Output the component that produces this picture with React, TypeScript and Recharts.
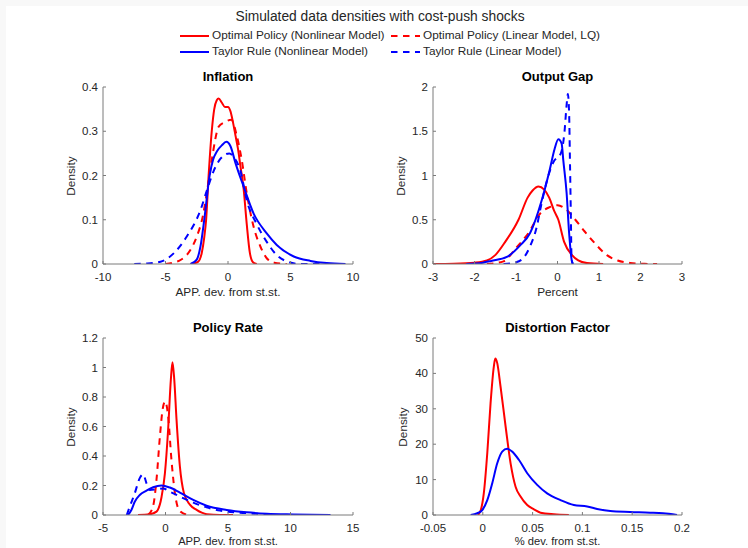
import React from 'react';
import { LineChart, Line, XAxis, YAxis } from 'recharts';

type P = [number, number];

// ---------- Inflation ----------
const inflationOptimalNonlinear: P[] = [[-3.0,0],[-2.4,0.005],[-2.1,0.025],[-1.9,0.06],[-1.75,0.1],[-1.55,0.2],[-1.3,0.3],[-1.1,0.35],[-0.9,0.37],[-0.75,0.374],[-0.5,0.365],[-0.25,0.355],[0,0.355],[0.2,0.345],[0.4,0.32],[0.6,0.29],[0.8,0.26],[1.0,0.22],[1.25,0.17],[1.5,0.09],[1.75,0.025],[2.0,0.004],[2.3,0]];
const inflationOptimalLinear: P[] = [[-5,0],[-4.4,0.003],[-3.8,0.009],[-3.0,0.032],[-2.5,0.062],[-2.0,0.11],[-1.7,0.16],[-1.3,0.235],[-0.75,0.31],[-0.3,0.32],[0.27,0.326],[0.7,0.29],[1.1,0.235],[1.5,0.16],[2.05,0.084],[2.6,0.039],[3.1,0.013],[3.7,0.003],[4.7,0]];
const inflationTaylorNonlinear: P[] = [[-3.0,0],[-2.5,0.01],[-2.2,0.04],[-1.9,0.1],[-1.47,0.2],[-1.2,0.235],[-0.88,0.255],[-0.5,0.268],[-0.13,0.276],[0.2,0.266],[0.6,0.228],[1.25,0.175],[2.05,0.114],[3.1,0.069],[3.9,0.043],[5.26,0.017],[6.6,0.007],[7.9,0.002],[9.4,0]];
const inflationTaylorLinear: P[] = [[-7.5,0],[-6.5,0.001],[-5.4,0.005],[-4.35,0.024],[-3.3,0.062],[-2.2,0.122],[-1.68,0.167],[-1.15,0.21],[-0.6,0.238],[0.1,0.25],[0.5,0.24],[1.0,0.21],[1.5,0.144],[2.3,0.09],[3.1,0.05],[3.9,0.02],[4.7,0.006],[5.8,0],[7.9,0]];
const inflationXTicks = [-10, -5, 0, 5, 10];
const inflationYTicks = [0, 0.1, 0.2, 0.3, 0.4];

// ---------- Output Gap ----------
const gapOptimalNonlinear: P[] = [[-3,0],[-2.5,0.003],[-2,0.015],[-1.7,0.04],[-1.5,0.1],[-1.26,0.25],[-0.94,0.5],[-0.72,0.75],[-0.6,0.83],[-0.46,0.875],[-0.32,0.84],[-0.2,0.75],[-0.08,0.6],[0.02,0.5],[0.16,0.25],[0.35,0.1],[0.5,0.04],[0.71,0.01],[1.1,0]];
const gapOptimalLinear: P[] = [[-1.7,0],[-1.3,0.03],[-1.0,0.18],[-0.7,0.35],[-0.4,0.58],[-0.2,0.64],[0,0.665],[0.2,0.62],[0.43,0.5],[0.65,0.37],[0.87,0.25],[1.19,0.1],[1.45,0.04],[1.75,0.012],[2.1,0.002],[2.4,0]];
const gapTaylorNonlinear: P[] = [[-2.2,0],[-1.8,0.015],[-1.6,0.035],[-1.22,0.08],[-0.9,0.21],[-0.66,0.35],[-0.38,0.72],[-0.19,1.06],[-0.07,1.3],[0.02,1.41],[0.1,1.36],[0.14,1.17],[0.22,0.8],[0.28,0.35],[0.34,0.05],[0.37,0]];
const gapTaylorLinear: P[] = [[-1.3,0],[-1.0,0.02],[-0.8,0.08],[-0.66,0.2],[-0.5,0.42],[-0.4,0.65],[-0.25,0.95],[-0.1,1.15],[0.08,1.25],[0.17,1.5],[0.22,1.8],[0.25,1.92],[0.28,1.7],[0.3,1.17],[0.32,0.6],[0.34,0.05],[0.37,0]];
const gapXTicks = [-3, -2, -1, 0, 1, 2, 3];
const gapYTicks = [0, 0.5, 1, 1.5, 2];

// ---------- Policy Rate ----------
const rateOptimalNonlinear: P[] = [[-2.2,0],[-1.26,0.005],[-0.72,0.023],[-0.32,0.12],[-0.05,0.28],[0.21,0.58],[0.43,0.92],[0.56,1.035],[0.7,0.92],[0.88,0.65],[1.15,0.33],[1.47,0.15],[1.95,0.07],[2.49,0.035],[2.9,0.016],[3.3,0.005],[4.36,0],[5.4,0]];
const rateOptimalLinear: P[] = [[-1.4,0],[-1.0,0.057],[-0.72,0.24],[-0.45,0.53],[-0.24,0.71],[-0.03,0.77],[0.21,0.67],[0.48,0.37],[0.75,0.15],[1.02,0.045],[1.42,0.011],[1.95,0]];
const rateTaylorNonlinear: P[] = [[-3.0,0],[-2.73,0.034],[-2.46,0.09],[-2.06,0.136],[-1.52,0.165],[-0.99,0.188],[-0.32,0.2],[0.35,0.186],[1.15,0.152],[2.22,0.102],[3.29,0.063],[4.9,0.034],[6.5,0.018],[8.1,0.009],[10.2,0.004],[13.2,0]];
const rateTaylorLinear: P[] = [[-3.1,0],[-2.86,0.057],[-2.46,0.147],[-2.06,0.25],[-1.79,0.276],[-1.52,0.215],[-1.26,0.17],[-0.72,0.174],[-0.19,0.18],[0.35,0.158],[1.15,0.125],[2.22,0.084],[3.29,0.052],[4.36,0.03],[5.96,0.016],[7.57,0.007],[8.6,0]];
const rateXTicks = [-5, 0, 5, 10, 15];
const rateYTicks = [0, 0.2, 0.4, 0.6, 0.8, 1, 1.2];

// ---------- Distortion Factor ----------
const distOptimalNonlinear: P[] = [[-0.005,0],[-0.002,1.4],[0.001,6.1],[0.0045,17.5],[0.0078,31.6],[0.0111,42],[0.0125,44.2],[0.0145,42.9],[0.0178,36.3],[0.0229,25],[0.0279,14.6],[0.0329,8],[0.0379,5.2],[0.0446,2.8],[0.0513,1.6],[0.058,0.66],[0.0713,0.2],[0.0864,0]];
const distTaylorNonlinear: P[] = [[-0.0122,0],[-0.0055,0.5],[-0.0005,1.4],[0.0045,4.2],[0.0095,9],[0.0145,14.6],[0.0195,17.9],[0.0245,18.7],[0.0295,17.9],[0.0362,15.6],[0.0446,11.8],[0.0546,8.5],[0.0646,6.1],[0.078,4.2],[0.0914,2.8],[0.1048,2.4],[0.1148,1.7],[0.128,1.1],[0.148,0.85],[0.168,0.66],[0.181,0.47],[0.195,0]];
const distXTicks = [-0.05, 0, 0.05, 0.1, 0.15, 0.2];
const distYTicks = [0, 10, 20, 30, 40, 50];

const legendNames = [
  'Optimal Policy (Nonlinear Model)',
  'Optimal Policy (Linear Model, LQ)',
  'Taylor Rule (Nonlinear Model)',
  'Taylor Rule (Linear Model)',
];

const RED = '#ff0000';
const BLUE = '#0000ff';
const FONT = '"Liberation Sans", Arial, Helvetica, sans-serif';
const TEXT = '#262626';
const AXIS = '#7a7a7a';
const DASH = '6.5 5.5';
const FS = 11.8;
const TICK_FS = 11.5;

interface Series { data: P[]; color: string; dashed: boolean; name: string }

const toPts = (a: P[]) => a.map(([x, y]) => ({ x, y }));

interface PanelProps {
  left: number; top: number; width: number;
  title: string; xLabel: string; yLabelX: number; xLabelDy: number; xLabelSize: number;
  xDomain: [number, number]; xTicks: number[];
  yDomain: [number, number]; yTicks: number[];
  series: Series[];
}

const CH = 234;
const YW = 63;
const XH = 30;
const MT = 27;
const MR = 10;

function Label({ x, y, text, bold, size, rotate }: { x: number; y: number; text: string; bold?: boolean; size: number; rotate?: boolean }) {
  return (
    <div style={{
      position: 'absolute', left: x, top: y, whiteSpace: 'nowrap',
      transform: `translate(-50%, -50%)${rotate ? ' rotate(-90deg)' : ''}`,
      fontFamily: FONT, fontSize: size, fontWeight: bold ? 'bold' : 'normal',
      color: bold ? '#000' : TEXT, lineHeight: 1,
    }}>{text}</div>
  );
}

function Panel(p: PanelProps) {
  const plotLeft = p.left + YW;
  const plotRight = p.left + p.width - MR;
  const cx = (plotLeft + plotRight) / 2;
  const plotTop = p.top + MT;
  const plotBottom = p.top + CH - XH;
  const tickStyle = { fill: TEXT, fontSize: TICK_FS, fontFamily: FONT };
  return (
    <>
      <div style={{ position: 'absolute', left: p.left, top: p.top }}>
        <LineChart width={p.width} height={CH} margin={{ top: MT, right: MR, bottom: 0, left: 0 }}>
          <XAxis type="number" dataKey="x" domain={p.xDomain} ticks={p.xTicks} interval={0}
            allowDataOverflow height={XH} tickSize={-3} tickMargin={12}
            stroke={AXIS} tickLine={{ stroke: AXIS }} tick={tickStyle} />
          <YAxis type="number" domain={p.yDomain} ticks={p.yTicks} interval={0}
            allowDataOverflow width={YW} tickSize={-3} tickMargin={8}
            stroke={AXIS} tickLine={{ stroke: AXIS }} tick={tickStyle} />
          {p.series.map((s) => (
            <Line key={s.name} data={toPts(s.data)} dataKey="y" type="monotone" stroke={s.color}
              strokeWidth={2} strokeDasharray={s.dashed ? DASH : undefined} dot={false}
              activeDot={false} isAnimationActive={false} name={s.name} />
          ))}
        </LineChart>
      </div>
      <Label x={cx} y={plotTop - 11} text={p.title} bold size={13} />
      <Label x={p.yLabelX} y={(plotTop + plotBottom) / 2} text="Density" size={FS} rotate />
      <Label x={cx} y={plotBottom + p.xLabelDy} text={p.xLabel} size={p.xLabelSize} />
    </>
  );
}

function LegendItem({ x, y, color, dashed, text }: { x: number; y: number; color: string; dashed: boolean; text: string }) {
  return (
    <div style={{ position: 'absolute', left: x, top: y - 8, height: 16, display: 'flex', alignItems: 'center', whiteSpace: 'nowrap' }}>
      <svg width={30} height={16} style={{ display: 'block' }}>
        <line x1={0} y1={8} x2={29} y2={8} stroke={color} strokeWidth={2} strokeDasharray={dashed ? DASH : undefined} />
      </svg>
      <span style={{ fontFamily: FONT, fontSize: FS, color: TEXT, marginLeft: 2, lineHeight: 1 }}>{text}</span>
    </div>
  );
}

export default function App() {
  return (
    <div style={{ position: 'absolute', left: 0, top: 0, width: 748, height: 548, background: '#f8f8f8', overflow: 'hidden' }}>
      <div style={{ position: 'absolute', left: 6, top: 6, width: 742, height: 542, background: '#ffffff' }} />
      <Label x={380} y={17} text="Simulated data densities with cost-push shocks" size={13.8} />
      <LegendItem x={180} y={36} color={RED} dashed={false} text={legendNames[0]} />
      <LegendItem x={391} y={36} color={RED} dashed text={legendNames[1]} />
      <LegendItem x={180} y={52} color={BLUE} dashed={false} text={legendNames[2]} />
      <LegendItem x={391} y={52} color={BLUE} dashed text={legendNames[3]} />

      <Panel left={40} top={60} width={323} title="Inflation" xLabel="APP. dev. from st.st." yLabelX={72} xLabelDy={29} xLabelSize={FS}
        xDomain={[-10, 10]} xTicks={inflationXTicks} yDomain={[0, 0.4]} yTicks={inflationYTicks}
        series={[
          { data: inflationOptimalNonlinear, color: RED, dashed: false, name: legendNames[0] },
          { data: inflationOptimalLinear, color: RED, dashed: true, name: legendNames[1] },
          { data: inflationTaylorNonlinear, color: BLUE, dashed: false, name: legendNames[2] },
          { data: inflationTaylorLinear, color: BLUE, dashed: true, name: legendNames[3] },
        ]} />
      <Panel left={370} top={60} width={322} title="Output Gap" xLabel="Percent" yLabelX={402} xLabelDy={29} xLabelSize={FS}
        xDomain={[-3, 3]} xTicks={gapXTicks} yDomain={[0, 2]} yTicks={gapYTicks}
        series={[
          { data: gapOptimalNonlinear, color: RED, dashed: false, name: legendNames[0] },
          { data: gapOptimalLinear, color: RED, dashed: true, name: legendNames[1] },
          { data: gapTaylorNonlinear, color: BLUE, dashed: false, name: legendNames[2] },
          { data: gapTaylorLinear, color: BLUE, dashed: true, name: legendNames[3] },
        ]} />
      <Panel left={40} top={311} width={323} title="Policy Rate" xLabel="APP. dev. from st.st." yLabelX={72} xLabelDy={27} xLabelSize={11.2}
        xDomain={[-5, 15]} xTicks={rateXTicks} yDomain={[0, 1.2]} yTicks={rateYTicks}
        series={[
          { data: rateOptimalNonlinear, color: RED, dashed: false, name: legendNames[0] },
          { data: rateOptimalLinear, color: RED, dashed: true, name: legendNames[1] },
          { data: rateTaylorNonlinear, color: BLUE, dashed: false, name: legendNames[2] },
          { data: rateTaylorLinear, color: BLUE, dashed: true, name: legendNames[3] },
        ]} />
      <Panel left={370} top={311} width={322} title="Distortion Factor" xLabel="% dev. from st.st." yLabelX={404} xLabelDy={27} xLabelSize={11.2}
        xDomain={[-0.05, 0.2]} xTicks={distXTicks} yDomain={[0, 50]} yTicks={distYTicks}
        series={[
          { data: distOptimalNonlinear, color: RED, dashed: false, name: legendNames[0] },
          { data: distTaylorNonlinear, color: BLUE, dashed: false, name: legendNames[2] },
        ]} />
    </div>
  );
}
